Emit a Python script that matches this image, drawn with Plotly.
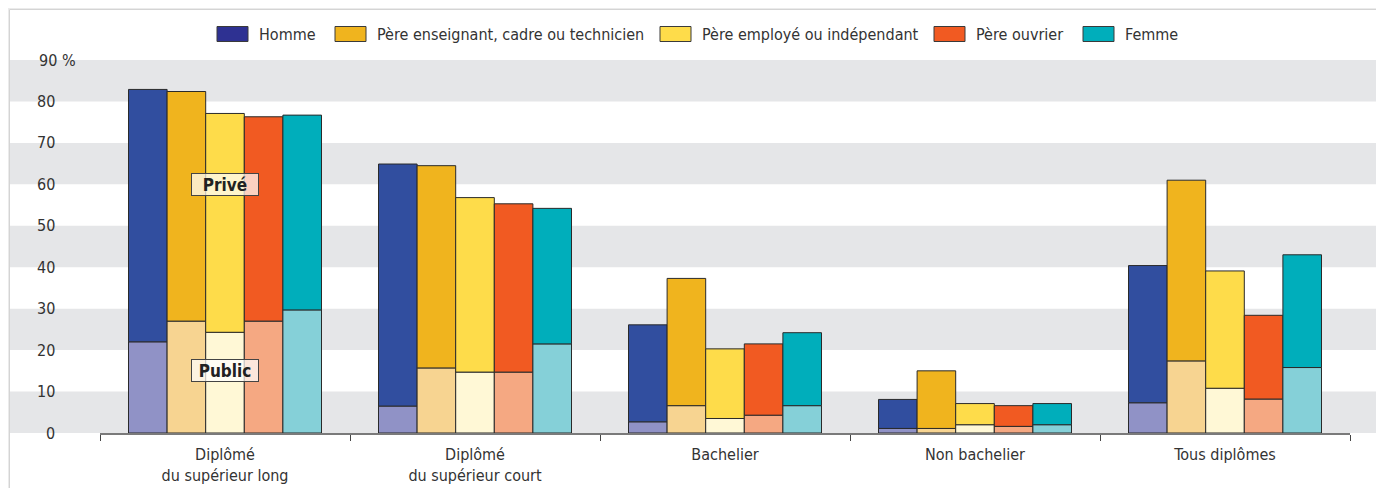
import plotly.graph_objects as go

categories = ["Diplômé<br>du supérieur long", "Diplômé<br>du supérieur court", "Bachelier",
              "Non bachelier", "Tous diplômes"]
series = ["Homme", "Père enseignant, cadre ou technicien", "Père employé ou indépendant",
          "Père ouvrier", "Femme"]

# total share (public + privé) and public share, in %
total_homme = [82.9, 64.9, 26.1, 8.1, 40.4]
public_homme = [22.0, 6.5, 2.7, 1.1, 7.3]
total_ens = [82.4, 64.5, 37.3, 15.0, 61.0]
public_ens = [27.0, 15.7, 6.6, 1.1, 17.4]
total_empl = [77.1, 56.8, 20.3, 7.1, 39.1]
public_empl = [24.3, 14.7, 3.5, 2.0, 10.8]
total_ouvr = [76.3, 55.3, 21.5, 6.6, 28.4]
public_ouvr = [27.0, 14.7, 4.3, 1.6, 8.2]
total_femme = [76.7, 54.2, 24.2, 7.1, 43.0]
public_femme = [29.7, 21.5, 6.6, 2.0, 15.8]

totals = [total_homme, total_ens, total_empl, total_ouvr, total_femme]
publics = [public_homme, public_ens, public_empl, public_ouvr, public_femme]

dark_colors = ["#314e9f", "#f0b41e", "#fedc4a", "#f15a22", "#00aebb"]
light_colors = ["#9092c6", "#f7d491", "#fff8d6", "#f5a882", "#85d0d8"]
legend_colors = ["#2e3192", "#f0b41e", "#fedc4a", "#f15a22", "#00aebb"]

y_ticks = [0, 10, 20, 30, 40, 50, 60, 70, 80, 90]

FONT = "DejaVu Sans Condensed, sans-serif"
FS = 16
TXT = "#333333"

OFF = 8  # page body margin
W, H = 1384 - OFF, 488 - OFF
ML, MR, MT, MB = 100 - OFF, 34, 60 - OFF, 55
PW = W - ML - MR
PH = H - MT - MB
X0_PAGE = ML + OFF
Y0_PAGE = OFF + MT + PH  # page pixel of the y=0 line


def px_x(p):  # page pixel -> paper x
    return (p - X0_PAGE) / PW


def px_y(p):  # page pixel -> paper y
    return (Y0_PAGE - p) / PH


fig = go.Figure()
for i, name in enumerate(series):
    priv = [t - p for t, p in zip(totals[i], publics[i])]
    fig.add_trace(go.Bar(
        x=categories, y=publics[i], offsetgroup=str(i), name=name + " public",
        marker=dict(color=light_colors[i], line=dict(color="#2a2a2a", width=1)),
        showlegend=False, hoverinfo="skip"))
    fig.add_trace(go.Bar(
        x=categories, y=priv, base=publics[i], offsetgroup=str(i), name=name,
        marker=dict(color=dark_colors[i], line=dict(color="#2a2a2a", width=1)),
        showlegend=False, hoverinfo="skip"))

shapes = []
# outer frame remnant
shapes.append(dict(type="rect", xref="paper", yref="paper", x0=px_x(OFF), x1=px_x(1384),
                   y0=px_y(OFF), y1=px_y(9), fillcolor="#ebebeb", line=dict(width=0), layer="below"))
shapes.append(dict(type="rect", xref="paper", yref="paper", x0=px_x(OFF), x1=px_x(9),
                   y0=px_y(OFF), y1=px_y(488), fillcolor="#ebebeb", line=dict(width=0), layer="below"))
shapes.append(dict(type="line", xref="paper", yref="paper", x0=px_x(9.5), x1=px_x(1384),
                   y0=px_y(9.5), y1=px_y(9.5), line=dict(color="#d4d4d4", width=1), layer="below"))
shapes.append(dict(type="line", xref="paper", yref="paper", x0=px_x(9.5), x1=px_x(9.5),
                   y0=px_y(9.5), y1=px_y(488), line=dict(color="#d4d4d4", width=1), layer="below"))
# grey bands
for k in range(0, len(y_ticks) - 1, 2):
    shapes.append(dict(type="rect", xref="paper", yref="y", x0=px_x(10), x1=px_x(1384),
                       y0=y_ticks[k], y1=y_ticks[k + 1], fillcolor="#e5e6e8",
                       line=dict(width=0), layer="below"))

annotations = []
# y tick labels
for v in y_ticks:
    if v == 90:
        annotations.append(dict(xref="paper", yref="y", x=px_x(37), y=v, text="90 %",
                                showarrow=False, xanchor="left", yanchor="middle",
                                font=dict(family=FONT, size=FS, color=TXT)))
    else:
        annotations.append(dict(xref="paper", yref="y", x=px_x(57), y=v, text=str(v),
                                showarrow=False, xanchor="right", yanchor="middle",
                                font=dict(family=FONT, size=FS, color=TXT)))

# manual legend
leg_x = [217, 335, 660, 934, 1083]
for i, name in enumerate(series):
    x0 = leg_x[i]
    shapes.append(dict(type="rect", xref="paper", yref="paper", x0=px_x(x0), x1=px_x(x0 + 31),
                       y0=px_y(26.5), y1=px_y(41.5), fillcolor=legend_colors[i],
                       line=dict(color="#3a3a3a", width=1)))
    annotations.append(dict(xref="paper", yref="paper", x=px_x(x0 + 40), y=px_y(34.5),
                            text=name, showarrow=False, xanchor="left", yanchor="middle",
                            font=dict(family=FONT, size=FS, color=TXT)))

# Privé / Public labels
for txt, yv in [("<b>Privé</b>", 60), ("<b>Public</b>", 15)]:
    annotations.append(dict(x=categories[0], y=yv, xref="x", yref="y", text=txt,
                            showarrow=False, bgcolor="rgba(255,255,255,0.72)",
                            bordercolor="#444444", borderwidth=1, borderpad=1,
                            width=64, height=19,
                            font=dict(family=FONT, size=17, color="#222222")))

fig.update_layout(
    width=W, height=H,
    margin=dict(l=ML, r=MR, t=MT, b=MB, pad=0),
    paper_bgcolor="white", plot_bgcolor="rgba(0,0,0,0)",
    barmode="group", bargap=0.228, bargroupgap=0,
    showlegend=False,
    shapes=shapes, annotations=annotations,
    font=dict(family=FONT, size=FS, color=TXT),
    xaxis=dict(type="category", showgrid=False, zeroline=False,
               showline=True, linecolor="#7a7a7a", linewidth=1.5,
               ticks="outside", tickson="boundaries", ticklen=6, tickcolor="#444444",
               tickwidth=1, tickfont=dict(family=FONT, size=FS, color=TXT),
               ticklabelstandoff=6,
               automargin=False, range=[-0.5, 4.5]),
    yaxis=dict(range=[0, 90], showgrid=False, zeroline=False, showticklabels=False,
               ticks="", showline=False, automargin=False),
)

fig.write_html("out.html")
